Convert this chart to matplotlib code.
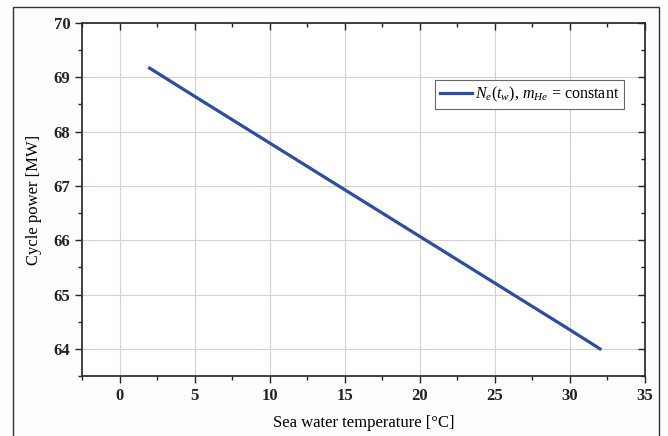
import matplotlib.pyplot as plt
from matplotlib.patches import Rectangle
from matplotlib.ticker import MultipleLocator

plt.rcParams['font.family'] = ['Liberation Serif', 'DejaVu Serif']
plt.rcParams['mathtext.fontset'] = 'custom'
plt.rcParams['mathtext.it'] = 'Liberation Serif:italic'
plt.rcParams['mathtext.rm'] = 'Liberation Serif'

# sea water temperature [degC] and cycle power [MW]
temp = [2, 5, 10, 15, 20, 25, 30, 32]
power = [69.17, 68.65, 67.79, 66.93, 66.07, 65.21, 64.35, 64.00]

xticks = [0, 5, 10, 15, 20, 25, 30, 35]
yticks = [64, 65, 66, 67, 68, 69, 70]

W, H = 668, 436
fig = plt.figure(figsize=(W / 100, H / 100), dpi=100, facecolor='#fdfdfc')
rect = [82 / W, 1 - 376 / H, (645 - 82) / W, (376 - 23) / H]
ax = fig.add_axes(rect)
ax.set_facecolor('white')

# outer frame around the figure
fig.patches.append(Rectangle((13 / W, -0.05), (659 - 13) / W, 1.05 - 7 / H,
                             transform=fig.transFigure, fill=False,
                             edgecolor='#333333', lw=1.0))

ax.plot(temp, power, color='#2a4da6', lw=2.3,
        label=r'$N_e(t_w)$, $m_{He}$ = constant')

ax.set_xlim(-2.5, 35)
ax.set_ylim(63.5, 70)
ax.set_xticks(xticks)
ax.set_yticks(yticks)
ax.xaxis.set_minor_locator(MultipleLocator(2.5))
ax.yaxis.set_minor_locator(MultipleLocator(0.5))
ax.grid(True, which='major', color='#d8d0cc', lw=0.8)
ax.set_axisbelow(True)

ax.tick_params(which='both', direction='out', top=False, right=False,
               labelsize=12, width=1.0, colors='#222222')
ax.tick_params(which='major', length=5)
ax.tick_params(which='minor', length=3)
for lab in ax.get_xticklabels() + ax.get_yticklabels():
    lab.set_fontweight('bold')

# inward ticks on top and right, via an overlay axes
ov = fig.add_axes(rect, frameon=False)
ov.patch.set_visible(False)
ov.set_xlim(ax.get_xlim())
ov.set_ylim(ax.get_ylim())
ov.set_xticks(xticks)
ov.set_yticks(yticks)
ov.xaxis.set_minor_locator(MultipleLocator(2.5))
ov.yaxis.set_minor_locator(MultipleLocator(0.5))
ov.tick_params(which='both', direction='in', bottom=False, left=False,
               top=True, right=True, labelbottom=False, labelleft=False,
               width=1.0, colors='#222222')
ov.tick_params(which='major', length=5)
ov.tick_params(which='minor', length=3)

for sp in ax.spines.values():
    sp.set_linewidth(1.3)
    sp.set_color('#333333')

ax.set_xlabel('Sea water temperature [°C]', fontsize=12, labelpad=8)
ax.set_ylabel('Cycle power [MW]', fontsize=12, labelpad=8)

leg = ax.legend(loc='upper right', bbox_to_anchor=(0.963, 0.838), fontsize=11.5,
                fancybox=False, framealpha=1, edgecolor='#666666',
                handlelength=2.0, handletextpad=0.2, borderpad=0.3,
                borderaxespad=0)
leg.get_frame().set_linewidth(0.8)

fig.savefig('out.png', dpi=100, facecolor=fig.get_facecolor())
